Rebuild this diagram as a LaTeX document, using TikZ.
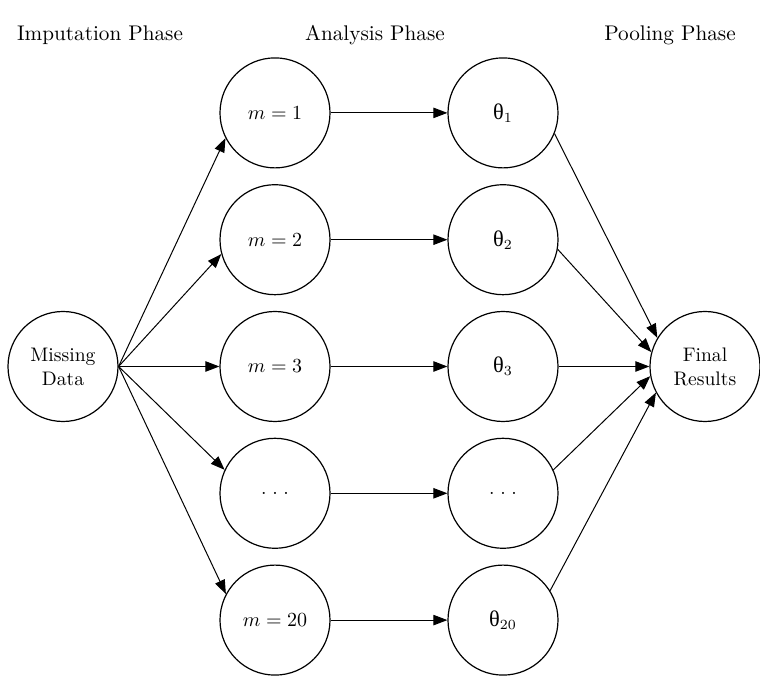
\documentclass[tikz,border=0pt]{standalone}
\usepackage{fontspec}
\newfontfamily\grkfont{Liberation Serif}
\usetikzlibrary{arrows.meta, positioning}
\newcommand{\thsub}[1]{{\grkfont\fontsize{11.2}{12}\selectfont θ}$_{#1}$}
\newcommand{\gapdots}{.\kern2.8pt.\kern2.8pt.}

\begin{document}
\begin{tikzpicture}[>={Triangle[length=7pt,width=5.2pt]}, line width=0.5pt,
    node distance=63.4pt, on grid,
    roundnode/.style={circle, draw, line width=0.6pt, minimum size=55pt, inner sep=0pt,
      align=center, font=\fontsize{9.8}{12}\selectfont},
    phasetitle/.style={font=\fontsize{10.6}{12.5}\selectfont}]
   \useasboundingbox (-31.5pt,183.25pt) rectangle (348.5pt,-156.25pt);

   \node[phasetitle] (p_imp) at (18.5pt,165.75pt) {Imputation Phase};
   \node[phasetitle] (p_ana) at (156pt,165.75pt) {Analysis Phase};
   \node[phasetitle] (p_pool) at (303.5pt,165.75pt) {Pooling Phase};

   \node[roundnode] (md) {Missing\\Data};
   \node[roundnode] (m_3) [right=106pt of md] {$m = 3$};
   \node[roundnode] (m_2) [above=of m_3] {$m = 2$};
   \node[roundnode] (m_1) [above=of m_2] {$m = 1$};
   \node[roundnode] (m_d) [below=of m_3] {\gapdots};
   \node[roundnode] (m_20) [below=of m_d] {$m = 20$};

   \node[roundnode] (t_1) [right=114pt of m_1] {\thsub{1}};
   \node[roundnode] (t_2) [right=114pt of m_2] {\thsub{2}};
   \node[roundnode] (t_3) [right=114pt of m_3] {\thsub{3}};
   \node[roundnode] (t_d) [right=114pt of m_d] {\gapdots};
   \node[roundnode] (t_20) [right=114pt of m_20] {\thsub{20}};

   \node[roundnode] (fr) [right=101pt of t_3] {Final\\Results};

    \path[->]
    (md.east) edge (m_1.207)
              edge (m_2.195)
              edge (m_3.west)
              edge (m_d.155)
              edge (m_20.152)
    (m_1) edge (t_1)
    (m_2) edge (t_2)
    (m_3) edge (t_3)
    (m_d) edge (t_d)
    (m_20) edge (t_20)
    (t_1.338) edge (fr.149)
    (t_2.350) edge (fr.165)
    (t_3.east) edge (fr.west)
    (t_d.25) edge (fr.190)
    (t_20.32) edge (fr.208);
\end{tikzpicture}
\end{document}
